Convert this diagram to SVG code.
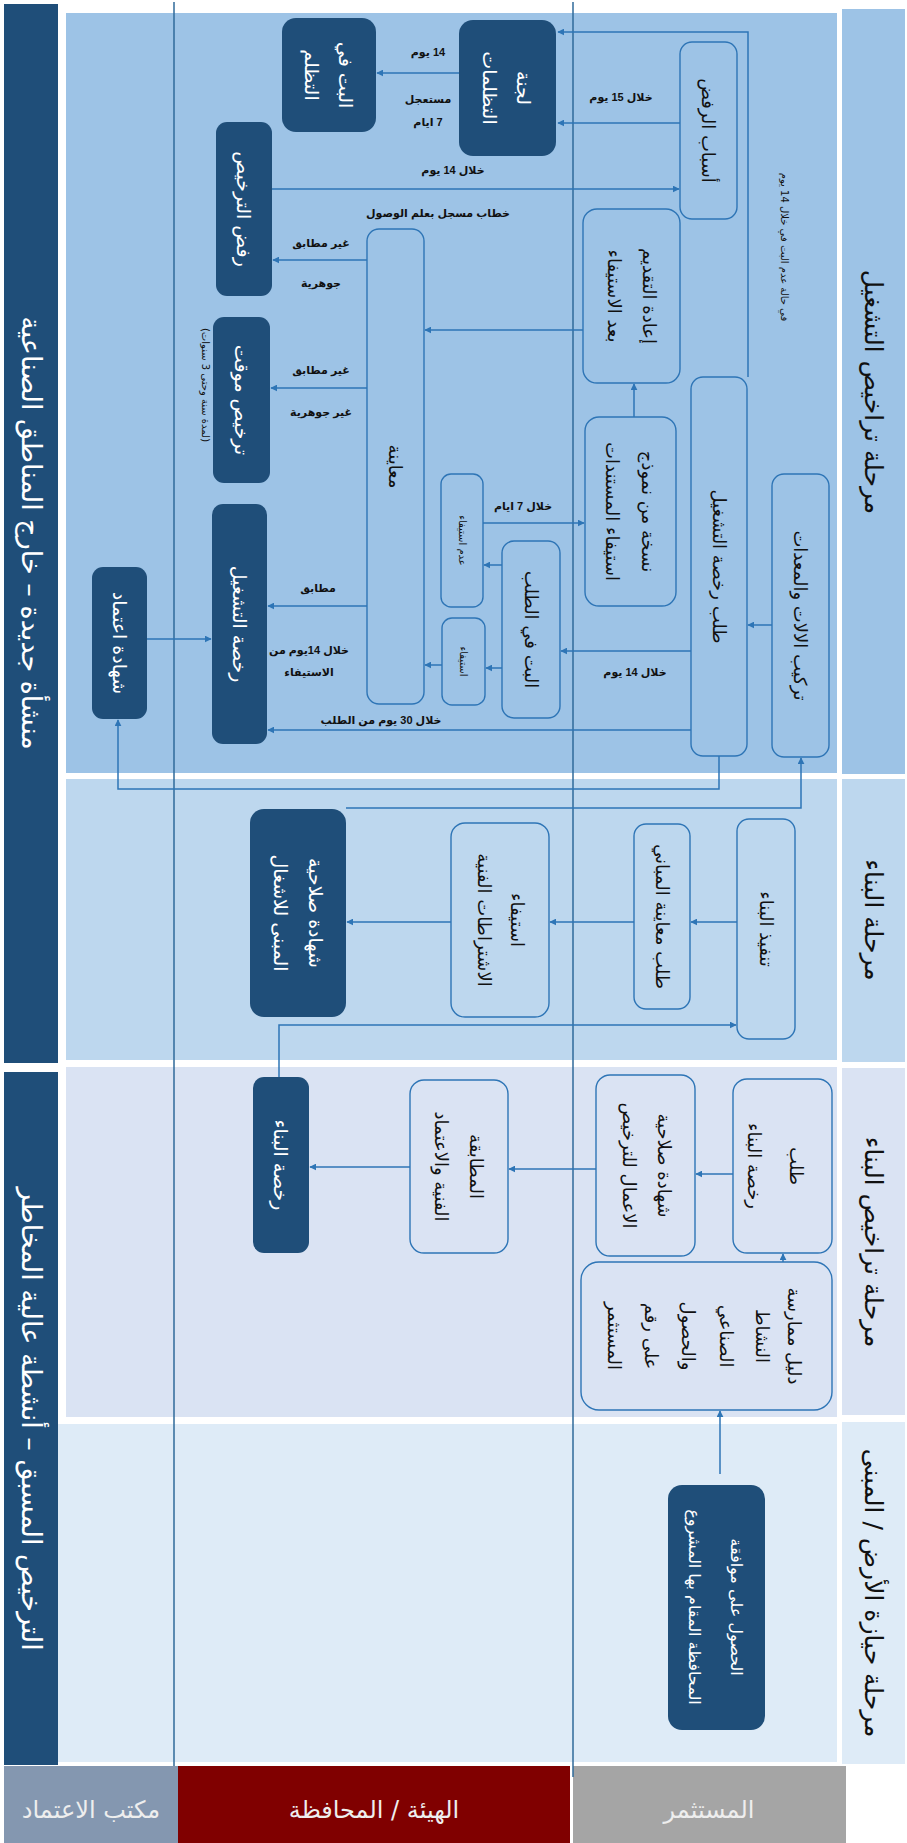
<svg xmlns="http://www.w3.org/2000/svg" width="907" height="1843" viewBox="0 0 907 1843">
<style>
text{direction:rtl}
.dk{fill:#1f4e79}
.ol{fill:none;stroke:#2e75b6;stroke-width:1.4}
.tw{fill:#ffffff;font-family:"DejaVu Sans",sans-serif;font-size:19px;text-anchor:middle;dominant-baseline:central}
.tb{fill:#111111;font-family:"DejaVu Sans",sans-serif;font-size:18px;text-anchor:middle;dominant-baseline:central}
.ts{fill:#111111;font-family:"DejaVu Sans",sans-serif;font-size:10px;text-anchor:middle;dominant-baseline:central}
.lb{fill:#111111;font-family:"Liberation Sans","DejaVu Sans",sans-serif;font-size:11px;font-weight:bold;text-anchor:middle;dominant-baseline:central}
.ph{fill:#111111;font-family:"DejaVu Sans",sans-serif;font-size:25px;text-anchor:middle;dominant-baseline:central}
.lc{fill:#ffffff;font-family:"DejaVu Sans",sans-serif;font-size:27px;text-anchor:middle;dominant-baseline:central}
.hd{fill:#eeeeee;font-family:"DejaVu Sans",sans-serif;font-size:24px;text-anchor:middle;dominant-baseline:central}
.cn{fill:none;stroke:#2e75b6;stroke-width:1.5;marker-end:url(#ah)}
.lane{stroke:#2f6a9a;stroke-width:1.5}
</style>
<defs>
<marker id="ah" viewBox="0 0 10 10" refX="9" refY="5" markerWidth="7" markerHeight="7" orient="auto" markerUnits="userSpaceOnUse">
<path d="M0,0 L10,5 L0,10 z" fill="#2e75b6"/>
</marker>
</defs>
<rect width="907" height="1843" fill="#ffffff"/>

<g id="bands">
<rect x="66" y="13" width="771" height="760" fill="#9dc3e6"/>
<rect x="66" y="779" width="771" height="281" fill="#bdd7ee"/>
<rect x="66" y="1067" width="771" height="350" fill="#dae3f3"/>
<rect x="58" y="1424" width="779" height="338" fill="#deebf7"/>
</g>

<g id="phase-labels">
<rect x="842" y="9" width="63" height="765" fill="#9dc3e6"/>
<text class="ph" transform="translate(873,392) rotate(90)">مرحلة تراخيص التشغيل</text>
<rect x="842" y="779" width="63" height="283" fill="#bdd7ee"/>
<text class="ph" transform="translate(873,920) rotate(90)">مرحلة البناء</text>
<rect x="842" y="1068" width="63" height="347" fill="#dae3f3"/>
<text class="ph" transform="translate(873,1242) rotate(90)">مرحلة تراخيص البناء</text>
<rect x="842" y="1422" width="63" height="342" fill="#deebf7"/>
<text class="ph" transform="translate(873,1593) rotate(90)">مرحلة حيازة الأرض / المبنى</text>
</g>

<g id="left-labels">
<rect x="4" y="4" width="54" height="1059" fill="#1f4e79"/>
<text class="lc" transform="translate(31,533) rotate(90)">منشأة جديدة – خارج المناطق الصناعية</text>
<rect x="4" y="1072" width="54" height="693" fill="#1f4e79"/>
<text class="lc" transform="translate(31,1419) rotate(90)">الترخيص المسبق – أنشطة عالية المخاطر</text>
</g>

<g id="lane-headers">
<rect x="4" y="1766" width="174" height="77" fill="#8497b0"/>
<text class="hd" x="91" y="1810">مكتب الاعتماد</text>
<rect x="178" y="1766" width="392" height="77" fill="#800000"/>
<text class="hd" x="374" y="1810">الهيئة / المحافظة</text>
<rect x="573" y="1766" width="273" height="77" fill="#a5a5a5"/>
<text class="hd" x="709" y="1810">المستثمر</text>
</g>

<g id="lanes">
<line class="lane" x1="174" y1="2" x2="174" y2="1766"/>
<line class="lane" x1="573" y1="2" x2="573" y2="1777"/>
</g>

<g id="connectors">
<path class="cn" d="M748,377 V32 H558"/>
<path class="cn" d="M680,123 H558"/>
<path class="cn" d="M459,73 H377"/>
<path class="cn" d="M272,189 H679"/>
<path class="cn" d="M583,330 H425"/>
<path class="cn" d="M634,417 V384"/>
<path class="cn" d="M367,260 H273"/>
<path class="cn" d="M367,388 H271"/>
<path class="cn" d="M367,606 H268"/>
<path class="cn" d="M691,730 H268"/>
<path class="cn" d="M147,639 H211"/>
<path class="cn" d="M691,651 H561"/>
<path class="cn" d="M502,565 H484"/>
<path class="cn" d="M502,668 H486"/>
<path class="cn" d="M442,665 H425"/>
<path class="cn" d="M483,523 H584"/>
<path class="cn" d="M772,625 H748"/>
<path class="cn" d="M719,756 V789 H118 V720"/>
<path class="cn" d="M346,808 H801 V758"/>
<path class="cn" d="M279,1077 V1025 H736"/>
<path class="cn" d="M737,922 H691"/>
<path class="cn" d="M634,922 H550"/>
<path class="cn" d="M451,922 H347"/>
<path class="cn" d="M783,1262 V1254"/>
<path class="cn" d="M733,1174 H696"/>
<path class="cn" d="M596,1169 H509"/>
<path class="cn" d="M410,1167 H310"/>
<path class="cn" d="M720,1474 V1411"/>
</g>

<g id="edge-labels">
<text class="lb" x="428" y="52">14 يوم</text>
<text class="lb" x="428" y="99">مستعجل</text>
<text class="lb" x="428" y="122">7 ايام</text>
<text class="lb" x="621" y="97">خلال 15 يوم</text>
<text class="lb" x="453" y="170">خلال 14 يوم</text>
<text class="lb" x="438" y="213">خطاب مسجل بعلم الوصول</text>
<text class="lb" x="321" y="243">غير مطابق</text>
<text class="lb" x="321" y="283">جوهرية</text>
<text class="lb" x="321" y="370">غير مطابق</text>
<text class="lb" x="321" y="412">غير جوهرية</text>
<text class="lb" x="523" y="506">خلال 7 ايام</text>
<text class="lb" x="318" y="588">مطابق</text>
<text class="lb" x="309" y="650">خلال 14يوم من</text>
<text class="lb" x="309" y="672">الاستيفاء</text>
<text class="lb" x="381" y="720">خلال 30 يوم من الطلب</text>
<text class="lb" x="635" y="672">خلال 14 يوم</text>
<text class="ts" transform="translate(784,247) rotate(90)">في حالة عدم البت في خلال 14 يوم</text>
<text class="ts" transform="translate(205,385) rotate(90)">(لمدة سنة وحتى 3 سنوات)</text>
</g>

<g id="n-asbab"><rect class="ol" x="680" y="42" width="57" height="177" rx="12"/><text class="tb" transform="translate(708.5,130.5) rotate(90)">أسباب الرفض</text></g>
<g id="n-iada"><rect class="ol" x="583" y="209" width="97" height="174" rx="14"/><text class="tb" transform="translate(649,296) rotate(90)">إعادة التقديم</text><text class="tb" transform="translate(614,296) rotate(90)">بعد الاستيفاء</text></g>
<g id="n-nuskha"><rect class="ol" x="585" y="417" width="91" height="189" rx="14"/><text class="tb" transform="translate(648,511.5) rotate(90)">نسخة من نموذج</text><text class="tb" transform="translate(612,511.5) rotate(90)">استيفاء المستندات</text></g>
<g id="n-talab-tashghil"><rect class="ol" x="691" y="377" width="56" height="379" rx="12"/><text class="tb" transform="translate(719,566.5) rotate(90)">طلب رخصة التشغيل</text></g>
<g id="n-tarkib"><rect class="ol" x="772" y="474" width="57" height="283" rx="12"/><text class="tb" transform="translate(800.5,615.5) rotate(90)">تركيب الالات والمعدات</text></g>
<g id="n-lajna"><rect class="dk" x="459" y="20" width="97" height="136" rx="14"/><text class="tw" transform="translate(524,88) rotate(90)">لجنة</text><text class="tw" transform="translate(490,88) rotate(90)">التظلمات</text></g>
<g id="n-bat-tazallum"><rect class="dk" x="282" y="18" width="94" height="114" rx="14"/><text class="tw" transform="translate(346,75) rotate(90)">البت في</text><text class="tw" transform="translate(312,75) rotate(90)">التظلم</text></g>
<g id="n-rafd"><rect class="dk" x="216" y="122" width="56" height="174" rx="11"/><text class="tw" transform="translate(244,209) rotate(90)">رفض الترخيص</text></g>
<g id="n-muaqqat"><rect class="dk" x="213" y="317" width="57" height="166" rx="11"/><text class="tw" transform="translate(241.5,400) rotate(90)">ترخيص موقت</text></g>
<g id="n-rukhsa-tashghil"><rect class="dk" x="212" y="504" width="55" height="240" rx="11"/><text class="tw" transform="translate(239.5,624) rotate(90)">رخصة التشغيل</text></g>
<g id="n-shahada-itimad"><rect class="dk" x="92" y="567" width="55" height="152" rx="11"/><text class="tw" transform="translate(119.5,643) rotate(90)">شهادة اعتماد</text></g>
<g id="n-muayana"><rect class="ol" x="367" y="229" width="57" height="475" rx="12"/><text class="tb" transform="translate(395.5,466.5) rotate(90)">معاينة</text></g>
<g id="n-bat-talab"><rect class="ol" x="502" y="541" width="58" height="177" rx="12"/><text class="tb" transform="translate(531,629.5) rotate(90)">البت في الطلب</text></g>
<g id="n-adam-istifa"><rect class="ol" x="441" y="474" width="42" height="133" rx="10"/><text class="ts" transform="translate(462,540.5) rotate(90)">عدم استيفاء</text></g>
<g id="n-istifa"><rect class="ol" x="442" y="618" width="43" height="87" rx="10"/><text class="ts" transform="translate(463.5,661.5) rotate(90)">استيفاء</text></g>
<g id="n-tanfidh"><rect class="ol" x="737" y="819" width="58" height="220" rx="12"/><text class="tb" transform="translate(766,929) rotate(90)">تنفيذ البناء</text></g>
<g id="n-muayana-mabani"><rect class="ol" x="634" y="824" width="56" height="185" rx="12"/><text class="tb" transform="translate(662,916.5) rotate(90)">طلب معاينة المباني</text></g>
<g id="n-istifa-ishtiratat"><rect class="ol" x="451" y="823" width="98" height="194" rx="14"/><text class="tb" transform="translate(517,920) rotate(90)">استيفاء</text><text class="tb" transform="translate(484,920) rotate(90)">الاشتراطات الفنية</text></g>
<g id="n-salahiat-mabna"><rect class="dk" x="250" y="809" width="96" height="208" rx="14"/><text class="tw" transform="translate(316,913) rotate(90)">شهادة صلاحية</text><text class="tw" transform="translate(281,913) rotate(90)">المبنى للاشغال</text></g>
<g id="n-rukhsa-bina"><rect class="dk" x="253" y="1077" width="56" height="176" rx="11"/><text class="tw" transform="translate(281,1165) rotate(90)">رخصة البناء</text></g>
<g id="n-mutabaqa"><rect class="ol" x="410" y="1080" width="98" height="173" rx="14"/><text class="tb" transform="translate(476,1166.5) rotate(90)">المطابقة</text><text class="tb" transform="translate(441,1166.5) rotate(90)">الفنية والاعتماد</text></g>
<g id="n-salahiat-aamal"><rect class="ol" x="596" y="1075" width="99" height="181" rx="14"/><text class="tb" transform="translate(664,1165.5) rotate(90)">شهادة صلاحية</text><text class="tb" transform="translate(629,1165.5) rotate(90)">الاعمال للترخيص</text></g>
<g id="n-talab-bina"><rect class="ol" x="733" y="1079" width="99" height="174" rx="14"/><text class="tb" transform="translate(796,1166) rotate(90)">طلب</text><text class="tb" transform="translate(754,1166) rotate(90)">رخصة البناء</text></g>
<g id="n-dalil"><rect class="ol" x="581" y="1262" width="251" height="148" rx="18"/>
<text class="tb" transform="translate(794,1336) rotate(90)">دليل ممارسة</text>
<text class="tb" transform="translate(762,1336) rotate(90)">النشاط</text>
<text class="tb" transform="translate(726,1336) rotate(90)">الصناعي</text>
<text class="tb" transform="translate(688,1336) rotate(90)">والحصول</text>
<text class="tb" transform="translate(651,1336) rotate(90)">على رقم</text>
<text class="tb" transform="translate(614,1336) rotate(90)">المستثمر</text>
</g>
<g id="n-muwafaqa"><rect class="dk" x="668" y="1485" width="97" height="245" rx="14"/><text class="tw" style="font-size:16px" transform="translate(736,1607) rotate(90)">الحصول على موافقة</text><text class="tw" style="font-size:16px" transform="translate(694,1607) rotate(90)">المحافظة المقام بها المشروع</text></g>
</svg>
